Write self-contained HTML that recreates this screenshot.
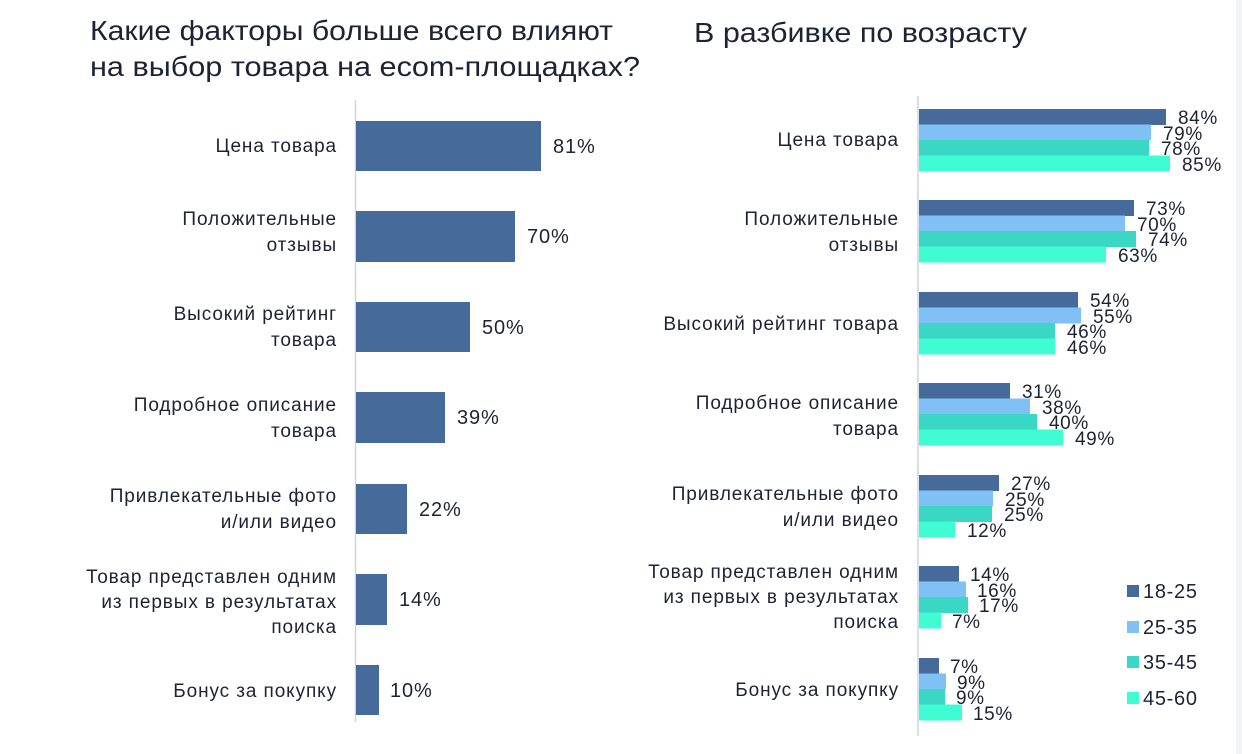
<!DOCTYPE html>
<html><head><meta charset="utf-8"><style>
html,body{margin:0;padding:0;background:#fff;}
svg{display:block;font-family:"Liberation Sans","Noto Sans CJK SC",sans-serif;fill:#1e2235;}
.lb{letter-spacing:0.9px;}
</style></head><body>
<svg width="1242" height="754" viewBox="0 0 1242 754" xmlns="http://www.w3.org/2000/svg">
<rect x="1236" y="0" width="6" height="754" fill="#f3f4f6"/>
<g font-size="28" fill="#1e2235">
<text x="90" y="40" textLength="523" lengthAdjust="spacingAndGlyphs">Какие факторы больше всего влияют</text>
<text x="90" y="76" textLength="550" lengthAdjust="spacingAndGlyphs">на выбор товара на ecom-площадках?</text>
<text x="694" y="42" textLength="333" lengthAdjust="spacingAndGlyphs">В разбивке по возрасту</text>
</g>
<line x1="355.5" y1="100" x2="355.5" y2="722" stroke="#cdd5e3" stroke-width="1.5"/>
<g fill="#466a9a">
<rect x="356" y="121" width="185" height="50"/>
<rect x="356" y="211" width="159" height="51"/>
<rect x="356" y="302" width="114" height="50"/>
<rect x="356" y="392" width="89" height="51"/>
<rect x="356" y="484" width="51" height="50"/>
<rect x="356" y="574" width="31" height="51"/>
<rect x="356" y="665" width="23" height="50"/>
</g>
<g font-size="20" fill="#1e2235" class="lb">
<text x="553" y="153">81%</text>
<text x="527" y="243">70%</text>
<text x="482" y="334">50%</text>
<text x="457" y="424">39%</text>
<text x="419" y="516">22%</text>
<text x="399" y="606">14%</text>
<text x="390" y="697">10%</text>
</g>
<g font-size="19" text-anchor="end" fill="#1e2235" class="lb">
<text x="337" y="152">Цена товара</text>
<text x="337" y="225">Положительные</text>
<text x="337" y="251">отзывы</text>
<text x="337" y="320">Высокий рейтинг</text>
<text x="337" y="346">товара</text>
<text x="337" y="411">Подробное описание</text>
<text x="337" y="437">товара</text>
<text x="337" y="502">Привлекательные фото</text>
<text x="337" y="528">и/или видео</text>
<text x="337" y="583">Товар представлен одним</text>
<text x="337" y="608">из первых в результатах</text>
<text x="337" y="633">поиска</text>
<text x="337" y="697">Бонус за покупку</text>
</g>
<line x1="918" y1="96" x2="918" y2="736" stroke="#cdd5e3" stroke-width="1.5"/>
<g>
<rect x="919" y="109" width="247" height="16" fill="#466a9a"/>
<rect x="919" y="124.5" width="232" height="16" fill="#7fc1f5"/>
<rect x="919" y="140" width="230" height="16" fill="#3ad8c4"/>
<rect x="919" y="155.5" width="251" height="16" fill="#3ffcd2"/>

<rect x="919" y="200" width="215" height="16" fill="#466a9a"/>
<rect x="919" y="215.5" width="206" height="16" fill="#7fc1f5"/>
<rect x="919" y="231" width="217" height="16" fill="#3ad8c4"/>
<rect x="919" y="246.5" width="187" height="16" fill="#3ffcd2"/>

<rect x="919" y="292" width="159" height="16" fill="#466a9a"/>
<rect x="919" y="307.5" width="162" height="16" fill="#7fc1f5"/>
<rect x="919" y="323" width="136" height="16" fill="#3ad8c4"/>
<rect x="919" y="338.5" width="136" height="16" fill="#3ffcd2"/>

<rect x="919" y="383" width="91" height="16" fill="#466a9a"/>
<rect x="919" y="398.5" width="111" height="16" fill="#7fc1f5"/>
<rect x="919" y="414" width="118" height="16" fill="#3ad8c4"/>
<rect x="919" y="429.5" width="144" height="16" fill="#3ffcd2"/>

<rect x="919" y="475" width="80" height="16" fill="#466a9a"/>
<rect x="919" y="490.5" width="74" height="16" fill="#7fc1f5"/>
<rect x="919" y="506" width="73" height="16" fill="#3ad8c4"/>
<rect x="919" y="521.5" width="36" height="16" fill="#3ffcd2"/>

<rect x="919" y="566" width="40" height="16" fill="#466a9a"/>
<rect x="919" y="581.5" width="47" height="16" fill="#7fc1f5"/>
<rect x="919" y="597" width="49" height="16" fill="#3ad8c4"/>
<rect x="919" y="612.5" width="22" height="16" fill="#3ffcd2"/>

<rect x="919" y="658" width="20" height="16" fill="#466a9a"/>
<rect x="919" y="673.5" width="27" height="16" fill="#7fc1f5"/>
<rect x="919" y="689" width="26" height="16" fill="#3ad8c4"/>
<rect x="919" y="704.5" width="43" height="16" fill="#3ffcd2"/>
</g>
<g font-size="19" fill="#1e2235" style="letter-spacing:0.6px">
<text x="1178" y="124">84%</text><text x="1163" y="140">79%</text><text x="1161" y="155">78%</text><text x="1182" y="171">85%</text>
<text x="1146" y="215">73%</text><text x="1137" y="231">70%</text><text x="1148" y="246">74%</text><text x="1118" y="262">63%</text>
<text x="1090" y="307">54%</text><text x="1093" y="323">55%</text><text x="1067" y="338">46%</text><text x="1067" y="354">46%</text>
<text x="1022" y="398">31%</text><text x="1042" y="414">38%</text><text x="1049" y="429">40%</text><text x="1075" y="445">49%</text>
<text x="1011" y="490">27%</text><text x="1005" y="506">25%</text><text x="1004" y="521">25%</text><text x="967" y="537">12%</text>
<text x="970" y="581">14%</text><text x="977" y="597">16%</text><text x="979" y="612">17%</text><text x="952" y="628">7%</text>
<text x="950" y="673">7%</text><text x="957" y="689">9%</text><text x="956" y="704">9%</text><text x="973" y="720">15%</text>
</g>
<g font-size="19" text-anchor="end" fill="#1e2235" class="lb">
<text x="899" y="146">Цена товара</text>
<text x="899" y="225">Положительные</text>
<text x="899" y="251">отзывы</text>
<text x="899" y="330">Высокий рейтинг товара</text>
<text x="899" y="409">Подробное описание</text>
<text x="899" y="435">товара</text>
<text x="899" y="500">Привлекательные фото</text>
<text x="899" y="526">и/или видео</text>
<text x="899" y="578">Товар представлен одним</text>
<text x="899" y="603">из первых в результатах</text>
<text x="899" y="628">поиска</text>
<text x="899" y="696">Бонус за покупку</text>
</g>
<rect x="1127" y="585" width="12" height="12" fill="#466a9a"/>
<rect x="1127" y="621" width="12" height="12" fill="#7fc1f5"/>
<rect x="1127" y="656" width="12" height="12" fill="#3ad8c4"/>
<rect x="1127" y="692" width="12" height="12" fill="#3ffcd2"/>
<g font-size="20" fill="#1e2235" style="letter-spacing:0.7px">
<text x="1143" y="598">18-25</text>
<text x="1143" y="634">25-35</text>
<text x="1143" y="669">35-45</text>
<text x="1143" y="705">45-60</text>
</g>
</svg>
</body></html>
